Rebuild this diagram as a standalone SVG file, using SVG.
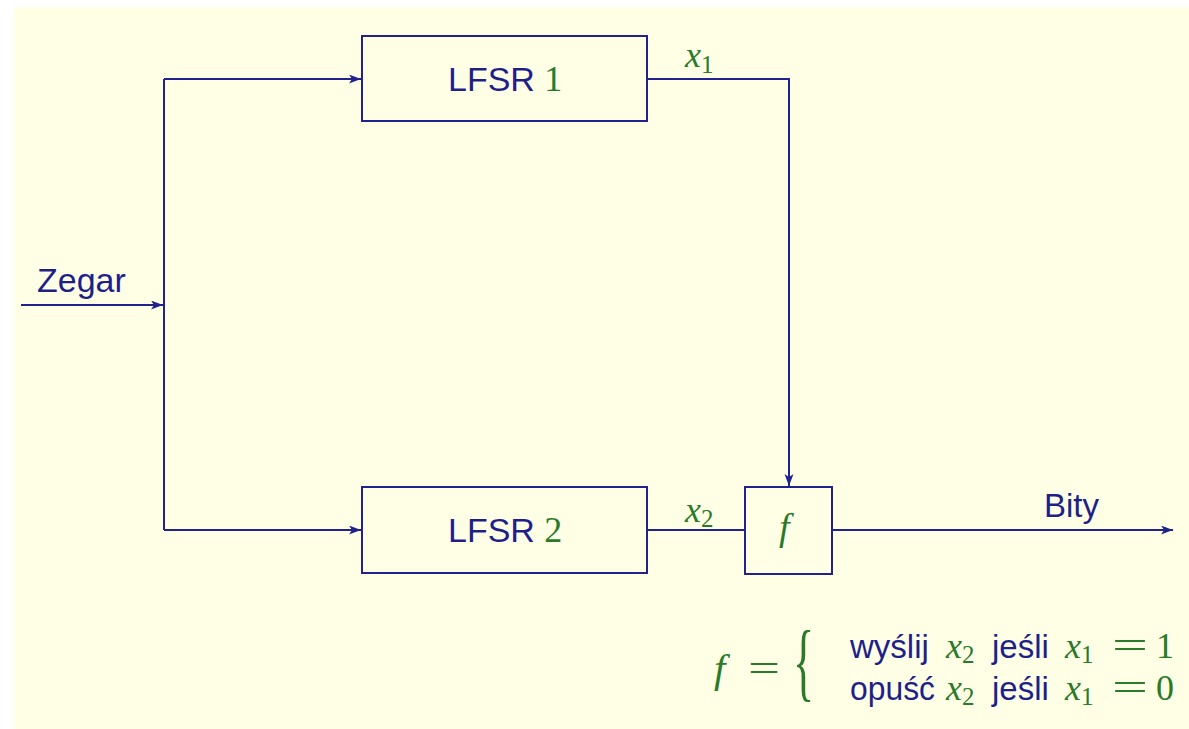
<svg xmlns="http://www.w3.org/2000/svg" width="1189" height="729" viewBox="0 0 1189 729">
<style>
.bg{fill:#ffffe6}
.box{fill:none;stroke:#22228f;stroke-width:2}
.w{fill:none;stroke:#22228f;stroke-width:2}
.t{font-family:"Liberation Sans",Arial,sans-serif;fill:#1f1f8a}
.m{font-family:"Liberation Serif","Times New Roman",serif;fill:#2a7a2a}
.i{font-style:italic}
</style>
<defs>
<marker id="ah" markerUnits="userSpaceOnUse" markerWidth="14" markerHeight="10" refX="12" refY="4.5" orient="auto">
<path d="M0,0 L12,4.5 L0,9 L3,4.5 z" fill="#22228f"/>
</marker>
</defs>
<rect class="bg" x="14" y="7" width="1175" height="722"/>
<g id="connectors">
<path class="w" d="M21,305 H163" marker-end="url(#ah)"/>
<path class="w" d="M164,79 V530"/>
<path class="w" d="M164,79 H361" marker-end="url(#ah)"/>
<path class="w" d="M164,530 H361" marker-end="url(#ah)"/>
<path class="w" d="M647,79 H789 V486" marker-end="url(#ah)"/>
<path class="w" d="M647,530 H745"/>
<path class="w" d="M832,530 H1173" marker-end="url(#ah)"/>
</g>
<g id="zegar"><text class="t" x="37" y="292" font-size="34">Zegar</text></g>
<g id="lfsr1">
<rect class="box" x="362" y="36" width="285" height="85"/>
<text class="t" x="448" y="91" font-size="34">LFSR <tspan class="m" font-size="36">1</tspan></text>
</g>
<g id="lfsr2">
<rect class="box" x="362" y="487" width="285" height="86"/>
<text class="t" x="448" y="542" font-size="34">LFSR <tspan class="m" font-size="36">2</tspan></text>
</g>
<g id="label-x1"><text class="m" x="685" y="67" font-size="36"><tspan class="i">x</tspan><tspan font-size="25" dy="6">1</tspan></text></g>
<g id="label-x2"><text class="m" x="685" y="522" font-size="36"><tspan class="i">x</tspan><tspan font-size="25" dy="5">2</tspan></text></g>
<g id="fbox">
<rect class="box" x="745" y="487" width="87" height="87"/>
<text class="m i" x="779" y="540" font-size="38">f</text>
</g>
<g id="bity"><text class="t" x="1044" y="517" font-size="33">Bity</text></g>
<g id="formula">
<text class="m i" x="714" y="682" font-size="41">f</text>
<text class="m" x="748" y="682" font-size="40" textLength="32" lengthAdjust="spacingAndGlyphs">=</text>
<text class="m" font-size="40" transform="translate(793,690) scale(1.1,2.15)">{</text>
<text class="t" x="850" y="658" font-size="33">wyślij</text>
<text class="m" x="946" y="658" font-size="36"><tspan class="i">x</tspan><tspan font-size="25" dy="5">2</tspan></text>
<text class="t" x="992" y="658" font-size="33">jeśli</text>
<text class="m" x="1065" y="658" font-size="36"><tspan class="i">x</tspan><tspan font-size="25" dy="5">1</tspan></text>
<text class="m" x="1112" y="658" font-size="38" textLength="36" lengthAdjust="spacingAndGlyphs">=</text>
<text class="m" x="1156" y="658" font-size="36">1</text>
<text class="t" x="850" y="700" font-size="33" textLength="85" lengthAdjust="spacingAndGlyphs">opuść</text>
<text class="m" x="946" y="700" font-size="36"><tspan class="i">x</tspan><tspan font-size="25" dy="5">2</tspan></text>
<text class="t" x="992" y="700" font-size="33">jeśli</text>
<text class="m" x="1065" y="700" font-size="36"><tspan class="i">x</tspan><tspan font-size="25" dy="5">1</tspan></text>
<text class="m" x="1112" y="700" font-size="38" textLength="36" lengthAdjust="spacingAndGlyphs">=</text>
<text class="m" x="1156" y="700" font-size="36">0</text>
</g>
</svg>
